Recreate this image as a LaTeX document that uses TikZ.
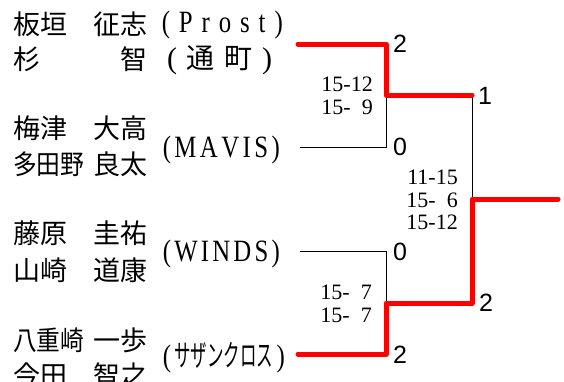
\documentclass[tikz,border=0pt]{standalone}
\usepackage{fontspec}
\usepackage{graphicx}
\setmainfont{Liberation Serif}
\newfontfamily\jpfont{Noto Sans CJK JP}
\newfontfamily\condfont[FakeStretch=0.8]{Liberation Serif}
\newfontfamily\condjp[FakeStretch=0.55]{Noto Sans CJK JP}
\newfontfamily\numfont{Liberation Sans}
\usetikzlibrary{positioning}
\newcommand{\pname}[2]{\makebox[134pt]{#1\hfill #2}}
\newcommand{\sqz}[1]{\scalebox{0.88}[1]{#1}}
\newcommand{\club}[2][117pt]{\makebox[#1]{#2}}

\begin{document}
\begin{tikzpicture}[x=1pt, y=-1pt,
  player/.style={anchor=west, inner sep=0pt, font=\jpfont\fontsize{27}{30}\selectfont},
  team/.style={anchor=east, inner sep=0pt, font=\condfont\fontsize{31}{33}\selectfont},
  games/.style={anchor=east, inner sep=0pt, align=right, font=\fontsize{22}{22.7}\selectfont},
  sets/.style={inner sep=0pt, font=\numfont\fontsize{25}{27}\selectfont},
  lose/.style={line width=0.8pt},
  win/.style={red, line width=5pt, line cap=round, line join=round}]
  \clip (0,0) rectangle (564,381);

  \node[player] (p1a) at (13,24) {\pname{板垣}{征志}};
  \node[player] (p1b) at (13,59) {\pname{杉}{智}};
  \node[player] (p2a) at (13,128) {\pname{梅津}{大高}};
  \node[player] (p2b) at (13,164) {\pname{\sqz{多田野}}{良太}};
  \node[player] (p3a) at (13,233) {\pname{藤原}{圭祐}};
  \node[player] (p3b) at (13,270) {\pname{山崎}{道康}};
  \node[player] (p4a) at (13,340) {\pname{\sqz{八重崎}}{一歩}};
  \node[player] (p4b) at (13,375) {\pname{今田}{智之}};

  \node[team] (t1a) at (283,25) {\club[121pt]{(\hfill P\hfill r\hfill o\hfill s\hfill t\hfill )}};
  \node[team, anchor=center, font=\jpfont\fontsize{28}{30}\selectfont] (t1b) at (219.5,60) {\club[105pt]{{\rmfamily\fontsize{30}{32}\selectfont (}\hfill 通\hfill 町\hfill {\rmfamily\fontsize{30}{32}\selectfont )}}};
  \node[team] (t2) at (280,150) {\club{(\hfill M\hfill A\hfill V\hfill I\hfill S\hfill )}};
  \node[team] (t3) at (280,254) {\club{(\hfill W\hfill I\hfill N\hfill D\hfill S\hfill )}};
  \node[team, font=\condjp\fontsize{30}{32}\selectfont] (t4) at (285,358) {\club[122pt]{{\condfont\fontsize{31}{33}\selectfont (}\hfill サザンクロス\hfill {\condfont\fontsize{31}{33}\selectfont )}}};

  \coordinate (e1) at (298,44);
  \coordinate (e2) at (300,147);
  \coordinate (e3) at (300,251);
  \coordinate (e4) at (298,354);
  \coordinate (m1) at (386,95);
  \coordinate (m2) at (386,303);
  \coordinate (s1) at (472,95);
  \coordinate (s2) at (472,303);
  \coordinate (f) at (472,199);
  \coordinate (w) at (558,199);

  \draw[lose] (e2) -| (m1);
  \draw[lose] (e3) -| (m2);
  \draw[lose] (s1) -- (f);
  \draw[win] (e1) -| (m1) -- (s1);
  \draw[win] (w) -- (f) -- (s2) -- (m2) |- (e4);

  \node[sets] (r1) at (400,44) {2};
  \node[sets] (r2) at (400,147) {0};
  \node[sets] (r3) at (400,252) {0};
  \node[sets] (r4) at (400,355) {2};
  \node[sets] (r5) at (485,96) {1};
  \node[sets] (r6) at (486,303) {2};

  \node[games] (g1) at (373,96) {15-12\\15-\hphantom{1}9};
  \node[games] (g2) at (458,200) {11-15\\15-\hphantom{1}6\\15-12};
  \node[games] (g3) at (372,304) {15-\hphantom{1}7\\15-\hphantom{1}7};
\end{tikzpicture}
\end{document}
